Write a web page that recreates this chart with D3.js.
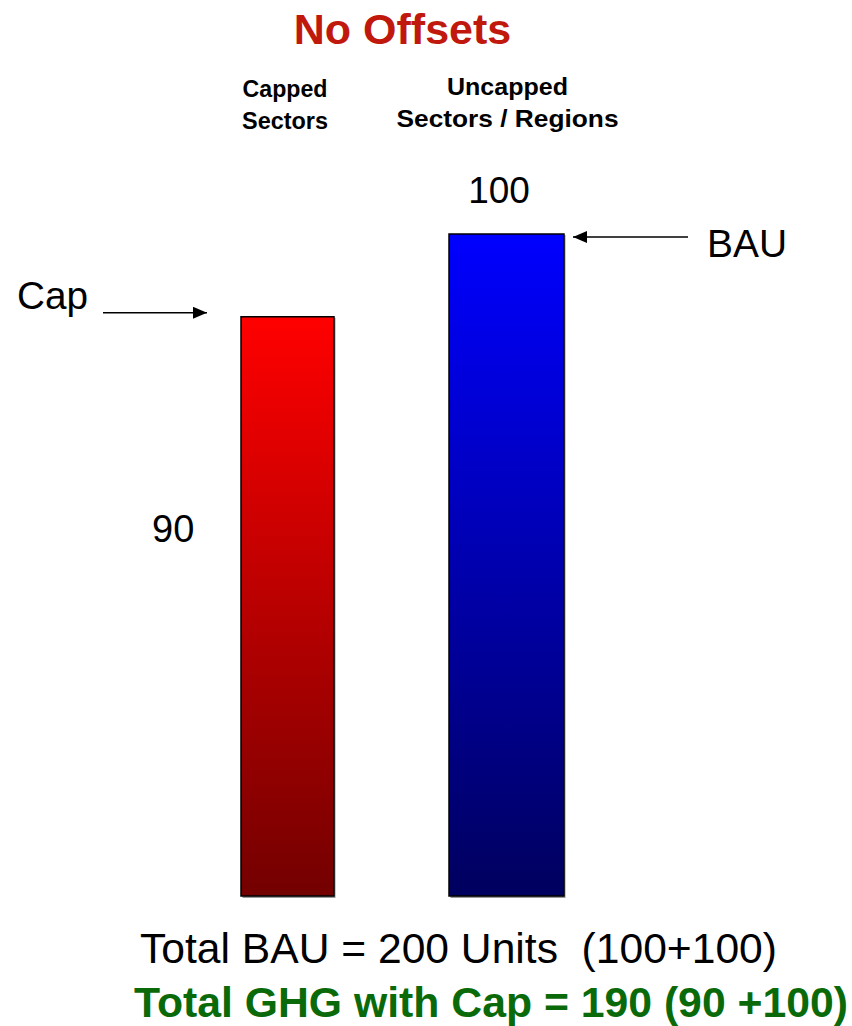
<!DOCTYPE html>
<html>
<head>
<meta charset="utf-8">
<script src="https://cdn.jsdelivr.net/npm/d3@7/dist/d3.min.js"></script>
<style>
  html, body { margin: 0; padding: 0; background: #fff; }
  svg { display: block; font-family: "Liberation Sans", Arial, sans-serif; }
</style>
</head>
<body>
<svg id="chart" width="852" height="1026"></svg>
<script>
// ---- data ----
const title = "No Offsets";
const categories = ["Capped Sectors", "Uncapped Sectors / Regions"];
const categoryLines = [["Capped", "Sectors"], ["Uncapped", "Sectors / Regions"]];
const values = [90, 100];
const valueLabels = ["90", "100"];
const markerLabels = ["Cap", "BAU"];
const totalBAU = "Total BAU = 200 Units  (100+100)";
const totalCap = "Total GHG with Cap = 190 (90 +100)";

// ---- layout ----
const svg = d3.select("#chart");
const baseY = 896, topY = 234;
const y = d3.scaleLinear().domain([20, 100]).range([baseY, topY]);
const x = d3.scalePoint().domain(categories).range([287.5, 506.5]);
const barW = [93, 115];

const defs = svg.append("defs");
const grads = [["#ff0000", "#730000"], ["#0000ff", "#00005e"]];
grads.forEach((g, i) => {
  const lg = defs.append("linearGradient").attr("id", "g" + i)
    .attr("x1", 0).attr("y1", 0).attr("x2", 0).attr("y2", 1);
  lg.append("stop").attr("offset", "0%").attr("stop-color", g[0]);
  lg.append("stop").attr("offset", "100%").attr("stop-color", g[1]);
});
const mk = defs.append("marker").attr("id", "arr")
  .attr("viewBox", "0 0 14 12").attr("refX", 14).attr("refY", 6)
  .attr("markerWidth", 14).attr("markerHeight", 12)
  .attr("markerUnits", "userSpaceOnUse").attr("orient", "auto");
mk.append("path").attr("d", "M0,0 L14,6 L0,12 Z").attr("fill", "#000");

// title
svg.append("text").attr("x", 402.5).attr("y", 44)
  .attr("text-anchor", "middle").attr("font-size", 43).attr("font-weight", "bold")
  .attr("fill", "#c0180c").text(title);

// category headers
const headY = [[97, 129], [95, 127]];
const headSize = [23, 24.5];
const headLen = [[85, 86], [121, 222]];
const headX = [285, 507.5];
categories.forEach((c, i) => {
  categoryLines[i].forEach((ln, j) => {
    svg.append("text").attr("x", headX[i] - headLen[i][j] / 2).attr("y", headY[i][j])
      .attr("font-size", headSize[i]).attr("font-weight", "bold")
      .attr("textLength", headLen[i][j]).attr("lengthAdjust", "spacingAndGlyphs")
      .attr("fill", "#000").text(ln);
  });
});

// bars (shadow + gradient)
svg.selectAll("rect.shadow").data(values).enter().append("rect")
  .attr("class", "shadow")
  .attr("x", (d, i) => x(categories[i]) - barW[i] / 2 + 1.5)
  .attr("y", d => y(d) + 1)
  .attr("width", (d, i) => barW[i])
  .attr("height", d => baseY - y(d) + 1)
  .attr("fill", "#999");
svg.selectAll("rect.bar").data(values).enter().append("rect")
  .attr("class", "bar")
  .attr("x", (d, i) => x(categories[i]) - barW[i] / 2)
  .attr("y", d => y(d))
  .attr("width", (d, i) => barW[i])
  .attr("height", d => baseY - y(d))
  .attr("fill", (d, i) => `url(#g${i})`)
  .attr("stroke", "#000").attr("stroke-width", 1.5);

// value labels
svg.append("text").attr("x", 152).attr("y", 542).attr("font-size", 38)
  .attr("fill", "#000").text(valueLabels[0]);
svg.append("text").attr("x", x(categories[1]) - 7.5).attr("y", y(values[1]) - 31)
  .attr("text-anchor", "middle").attr("font-size", 37).attr("fill", "#000").text(valueLabels[1]);

// marker labels + arrows
const capY = y(values[0]) - 4;
svg.append("text").attr("x", 17).attr("y", 309).attr("font-size", 38)
  .attr("textLength", 71).attr("lengthAdjust", "spacingAndGlyphs")
  .attr("fill", "#000").text(markerLabels[0]);
svg.append("line").attr("x1", 103).attr("y1", capY)
  .attr("x2", x(categories[0]) - barW[0] / 2 - 34).attr("y2", capY)
  .attr("stroke", "#000").attr("stroke-width", 1.5).attr("marker-end", "url(#arr)");

const bauY = y(values[1]) + 3;
svg.append("text").attr("x", 707).attr("y", 257).attr("font-size", 38)
  .attr("textLength", 80).attr("lengthAdjust", "spacingAndGlyphs")
  .attr("fill", "#000").text(markerLabels[1]);
svg.append("line").attr("x1", 688).attr("y1", bauY)
  .attr("x2", x(categories[1]) + barW[1] / 2 + 9).attr("y2", bauY)
  .attr("stroke", "#000").attr("stroke-width", 1.5).attr("marker-end", "url(#arr)");

// totals
svg.append("text").attr("x", 140).attr("y", 963).attr("font-size", 42)
  .style("white-space", "pre").attr("xml:space", "preserve")
  .attr("textLength", 637).attr("lengthAdjust", "spacingAndGlyphs")
  .attr("fill", "#000").text(totalBAU);
svg.append("text").attr("x", 134).attr("y", 1017).attr("font-size", 42)
  .attr("font-weight", "bold").attr("fill", "#0a6a0a")
  .attr("textLength", 714).attr("lengthAdjust", "spacingAndGlyphs")
  .text(totalCap);
</script>
</body>
</html>
